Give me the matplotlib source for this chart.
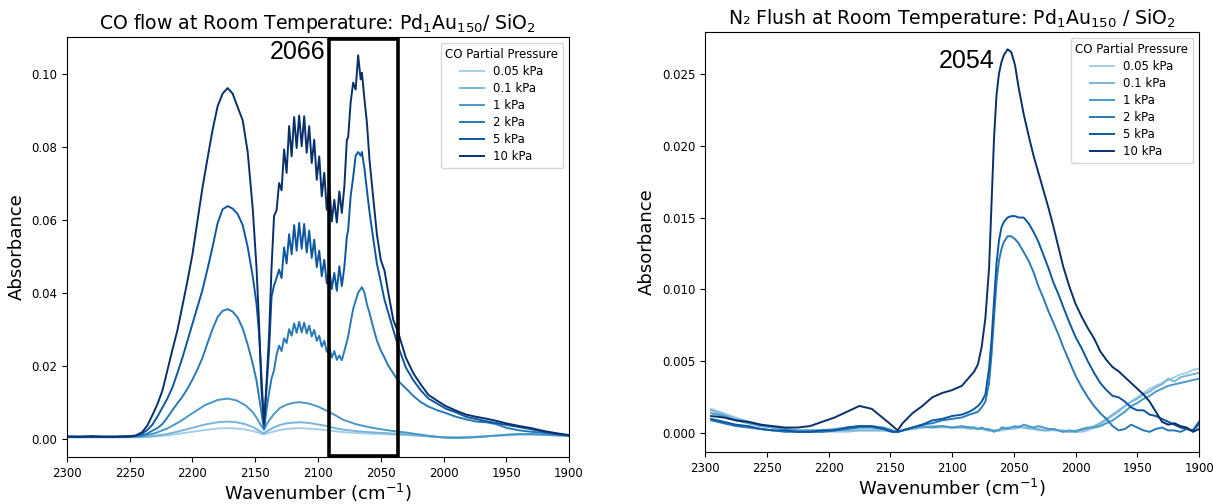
"""Pd1Au150/SiO2 DRIFTS spectra: CO flow vs N2 flush, two panels side by side."""
import matplotlib
matplotlib.use("Agg")
import matplotlib.pyplot as plt
import matplotlib.patches as mpatches

# ---------------------------------------------------------------------------
# Data
# ---------------------------------------------------------------------------
pressures = ["0.05 kPa", "0.1 kPa", "1 kPa", "2 kPa", "5 kPa", "10 kPa"]
shades = [0.35, 0.47, 0.6, 0.72, 0.85, 1.0]   # position in the Blues colormap

# left panel, strong spectra (2, 5, 10 kPa) share this wavenumber grid
wn_strong = [2300, 2290, 2280, 2270, 2260, 2250, 2245, 2240, 2236, 2232, 2228, 2224,
             2220, 2216, 2212, 2208, 2204, 2200, 2196, 2192, 2188, 2184, 2180, 2176,
             2172, 2168, 2164, 2160, 2156, 2152, 2149, 2147, 2145, 2143, 2141, 2139,
             2137, 2135, 2133, 2131, 2129, 2127, 2125, 2123, 2121, 2119, 2117, 2115,
             2113, 2111, 2109, 2107, 2105, 2103, 2101, 2099, 2097, 2095, 2093, 2091,
             2089, 2087, 2085, 2083, 2081, 2079, 2077, 2076, 2074, 2072, 2070, 2068,
             2066, 2065, 2063, 2061, 2059, 2056, 2053, 2050, 2047, 2044, 2040, 2036,
             2030, 2024, 2018, 2012, 2005, 1998, 1990, 1982, 1974, 1966, 1958, 1950,
             1940, 1930, 1920, 1910, 1900]

co_2kpa = [0.0005, 0.0005, 0.0006, 0.0005, 0.0005, 0.0006, 0.0007, 0.0009, 0.0014, 0.0022,
           0.0029, 0.0040, 0.0058, 0.0078, 0.0097, 0.0115, 0.0137, 0.0162, 0.0190, 0.0222,
           0.0262, 0.0300, 0.0333, 0.0350, 0.0355, 0.0348, 0.0332, 0.0302, 0.0258, 0.0205,
           0.0160, 0.0115, 0.0070, 0.0025, 0.0080, 0.0125, 0.0165, 0.0188, 0.0230, 0.0255,
           0.0240, 0.0275, 0.0262, 0.0300, 0.0282, 0.0316, 0.0290, 0.0320, 0.0291, 0.0318,
           0.0288, 0.0310, 0.0280, 0.0298, 0.0268, 0.0282, 0.0252, 0.0268, 0.0238, 0.0250,
           0.0222, 0.0240, 0.0216, 0.0228, 0.0215, 0.0240, 0.0265, 0.0280, 0.0318, 0.0355,
           0.0378, 0.0400, 0.0410, 0.0415, 0.0400, 0.0368, 0.0345, 0.0305, 0.0268, 0.0242,
           0.0222, 0.0200, 0.0179, 0.0158, 0.0138, 0.0117, 0.0100, 0.0088, 0.0078, 0.0070,
           0.0060, 0.0053, 0.0047, 0.0045, 0.0040, 0.0030, 0.0023, 0.0019, 0.0016, 0.0012,
           0.0009]

co_5kpa = [0.0006, 0.0006, 0.0005, 0.0006, 0.0005, 0.0006, 0.0008, 0.0014, 0.0024, 0.0038,
           0.0060, 0.0085, 0.0110, 0.0140, 0.0180, 0.0222, 0.0268, 0.0315, 0.0361, 0.0408,
           0.0465, 0.0525, 0.0590, 0.0628, 0.0637, 0.0630, 0.0615, 0.0585, 0.0525, 0.0445,
           0.0370, 0.0290, 0.0170, 0.0035, 0.0140, 0.0240, 0.0389, 0.0420, 0.0440, 0.0463,
           0.0440, 0.0524, 0.0480, 0.0560, 0.0505, 0.0585, 0.0515, 0.0591, 0.0520, 0.0588,
           0.0510, 0.0570, 0.0495, 0.0545, 0.0470, 0.0515, 0.0445, 0.0490, 0.0425, 0.0465,
           0.0410, 0.0454, 0.0405, 0.0472, 0.0418, 0.0470, 0.0554, 0.0570, 0.0664, 0.0715,
           0.0775, 0.0785, 0.0775, 0.0785, 0.0740, 0.0680, 0.0622, 0.0548, 0.0478, 0.0430,
           0.0380, 0.0345, 0.0298, 0.0252, 0.0195, 0.0160, 0.0132, 0.0110, 0.0096, 0.0082,
           0.0072, 0.0060, 0.0054, 0.0048, 0.0043, 0.0038, 0.0032, 0.0026, 0.0019, 0.0013,
           0.0009]

co_10kpa = [0.0006, 0.0005, 0.0007, 0.0005, 0.0006, 0.0007, 0.0009, 0.0018, 0.0036, 0.0064,
            0.0094, 0.0131, 0.0187, 0.0243, 0.0297, 0.0364, 0.0432, 0.0505, 0.0597, 0.0688,
            0.0768, 0.0845, 0.0910, 0.0945, 0.0960, 0.0945, 0.0908, 0.0872, 0.0785, 0.0630,
            0.0470, 0.0320, 0.0135, 0.0042, 0.0150, 0.0280, 0.0470, 0.0610, 0.0625, 0.0700,
            0.0680, 0.0792, 0.0728, 0.0856, 0.0773, 0.0881, 0.0796, 0.0885, 0.0801, 0.0883,
            0.0783, 0.0856, 0.0755, 0.0819, 0.0709, 0.0773, 0.0664, 0.0728, 0.0627, 0.0691,
            0.0595, 0.0654, 0.0592, 0.0677, 0.0618, 0.0690, 0.0819, 0.0824, 0.0920, 0.0975,
            0.0956, 0.1050, 0.0984, 0.1002, 0.0930, 0.0865, 0.0765, 0.0660, 0.0558, 0.0490,
            0.0460, 0.0400, 0.0325, 0.0290, 0.0222, 0.0179, 0.0148, 0.0120, 0.0104, 0.0089,
            0.0077, 0.0066, 0.0060, 0.0055, 0.0049, 0.0042, 0.0035, 0.0029, 0.0021, 0.0015,
            0.0010]

# left panel, weak spectra (0.05, 0.1, 1 kPa)
wn_weak = [2300, 2280, 2260, 2250, 2240, 2230, 2220, 2210, 2200, 2190, 2180, 2172, 2165,
           2158, 2152, 2148, 2145, 2143, 2140, 2135, 2130, 2125, 2120, 2115, 2110, 2105,
           2100, 2095, 2090, 2085, 2080, 2070, 2060, 2050, 2040, 2030, 2020, 2010, 2000,
           1990, 1980, 1970, 1960, 1950, 1940, 1930, 1920, 1910, 1900]

co_005kpa = [0.0004, 0.0004, 0.0004, 0.0004, 0.0004, 0.0006, 0.0009, 0.0014, 0.0019, 0.0024,
             0.0028, 0.0029, 0.0028, 0.0025, 0.0021, 0.0017, 0.0013, 0.0012, 0.0015, 0.0020,
             0.0024, 0.0027, 0.0028, 0.0029, 0.0028, 0.0027, 0.0026, 0.0024, 0.0022, 0.0020,
             0.0018, 0.0016, 0.0014, 0.0013, 0.0011, 0.0010, 0.0008, 0.0006, 0.0005, 0.0004,
             0.0005, 0.0006, 0.0008, 0.0009, 0.0011, 0.0011, 0.0010, 0.0009, 0.0008]

co_01kpa = [0.0004, 0.0004, 0.0004, 0.0004, 0.0005, 0.0008, 0.0013, 0.0021, 0.0030, 0.0039,
            0.0045, 0.0047, 0.0045, 0.0040, 0.0032, 0.0024, 0.0018, 0.0015, 0.0022, 0.0031,
            0.0038, 0.0042, 0.0044, 0.0045, 0.0044, 0.0042, 0.0039, 0.0036, 0.0032, 0.0028,
            0.0025, 0.0021, 0.0018, 0.0016, 0.0014, 0.0012, 0.0009, 0.0006, 0.0004, 0.0003,
            0.0004, 0.0006, 0.0008, 0.0010, 0.0012, 0.0012, 0.0011, 0.0009, 0.0008]

co_1kpa = [0.0005, 0.0005, 0.0005, 0.0005, 0.0007, 0.0015, 0.0028, 0.0047, 0.0070, 0.0092,
           0.0106, 0.0110, 0.0105, 0.0092, 0.0073, 0.0052, 0.0034, 0.0025, 0.0045, 0.0068,
           0.0085, 0.0093, 0.0098, 0.0100, 0.0098, 0.0094, 0.0088, 0.0080, 0.0071, 0.0062,
           0.0052, 0.0040, 0.0032, 0.0026, 0.0021, 0.0017, 0.0012, 0.0007, 0.0003, 0.0002,
           0.0003, 0.0005, 0.0008, 0.0011, 0.0013, 0.0013, 0.0011, 0.0010, 0.0008]

# right panel (N2 flush), all six spectra on one grid
wn_flush = [2295, 2285, 2275, 2265, 2255, 2245, 2235, 2225, 2215, 2205, 2195, 2185, 2175,
            2165, 2155, 2148, 2144, 2140, 2132, 2124, 2116, 2108, 2100, 2092, 2086, 2082,
            2079, 2076, 2073, 2070, 2068, 2066, 2064, 2062, 2060, 2058, 2055, 2052, 2049,
            2046, 2042, 2038, 2034, 2030, 2026, 2022, 2018, 2014, 2010, 2005, 2000, 1995,
            1990, 1985, 1980, 1975, 1970, 1965, 1960, 1955, 1950, 1945, 1940, 1935, 1930,
            1925, 1920, 1915, 1910, 1905, 1900]

n2_005kpa = [0.0017, 0.0014, 0.0011, 0.0008, 0.0006, 0.0004, 0.0003, 0.0002, 0.0001, 0.0001,
             0.0001, 0.0001, 0.0002, 0.0002, 0.0002, 0.0001, 0.0001, 0.0002, 0.0003, 0.0004,
             0.0004, 0.0004, 0.0004, 0.0004, 0.0003, 0.0003, 0.0003, 0.0003, 0.0002, 0.0002,
             0.0002, 0.0002, 0.0002, 0.0002, 0.0002, 0.0002, 0.0003, 0.0003, 0.0003, 0.0004,
             0.0004, 0.0003, 0.0003, 0.0002, 0.0002, 0.0002, 0.0002, 0.0002, 0.0001, 0.0001,
             0.0001, 0.0001, 0.0002, 0.0004, 0.0006, 0.0009, 0.0012, 0.0015, 0.0019, 0.0022,
             0.0025, 0.0028, 0.0031, 0.0033, 0.0035, 0.0037, 0.0039, 0.0041, 0.0042, 0.0044,
             0.0045]

n2_01kpa = [0.0016, 0.0013, 0.0010, 0.0008, 0.0006, 0.0004, 0.0003, 0.0002, 0.0002, 0.0002,
            0.0002, 0.0002, 0.0002, 0.0002, 0.0002, 0.0001, 0.0001, 0.0002, 0.0003, 0.0004,
            0.0005, 0.0005, 0.0004, 0.0004, 0.0004, 0.0004, 0.0003, 0.0003, 0.0003, 0.0003,
            0.0002, 0.0002, 0.0002, 0.0002, 0.0003, 0.0003, 0.0004, 0.0004, 0.0004, 0.0005,
            0.0004, 0.0004, 0.0003, 0.0003, 0.0002, 0.0002, 0.0003, 0.0002, 0.0002, 0.0001,
            0.0002, 0.0002, 0.0003, 0.0005, 0.0007, 0.0010, 0.0013, 0.0016, 0.0019, 0.0022,
            0.0024, 0.0027, 0.0029, 0.0032, 0.0034, 0.0038, 0.0036, 0.0039, 0.0040, 0.0041,
            0.0042]

n2_1kpa = [0.0014, 0.0012, 0.0009, 0.0007, 0.0005, 0.0004, 0.0003, 0.0002, 0.0002, 0.0002,
           0.0003, 0.0004, 0.0005, 0.0005, 0.0004, 0.0002, 0.0001, 0.0002, 0.0004, 0.0005,
           0.0004, 0.0005, 0.0004, 0.0005, 0.0004, 0.0004, 0.0003, 0.0004, 0.0003, 0.0002,
           0.0002, 0.0001, 0.0002, 0.0002, 0.0004, 0.0004, 0.0003, 0.0004, 0.0005, 0.0004,
           0.0006, 0.0005, 0.0004, 0.0005, 0.0004, 0.0003, 0.0003, 0.0002, 0.0001, 0.0002,
           0.0001, 0.0003, 0.0004, 0.0004, 0.0005, 0.0007, 0.0009, 0.0012, 0.0015, 0.0019,
           0.0021, 0.0024, 0.0026, 0.0029, 0.0031, 0.0033, 0.0034, 0.0035, 0.0036, 0.0037,
           0.0038]

n2_2kpa = [0.0009, 0.0007, 0.0005, 0.0004, 0.0003, 0.0002, 0.0001, 0.0001, 0.0001, 0.0001,
           0.0002, 0.0003, 0.0004, 0.0004, 0.0003, 0.0001, 0.0001, 0.0002, 0.0004, 0.0006,
           0.0007, 0.0009, 0.0010, 0.0011, 0.0013, 0.0014, 0.0015, 0.0018, 0.0022, 0.0035,
           0.0055, 0.0080, 0.0105, 0.0120, 0.0128, 0.0133, 0.0137, 0.0137, 0.0135, 0.0132,
           0.0126, 0.0120, 0.0112, 0.0102, 0.0094, 0.0085, 0.0077, 0.0069, 0.0060, 0.0050,
           0.0040, 0.0032, 0.0025, 0.0019, 0.0014, 0.0010, 0.0005, 0.0002, 0.0003, 0.0006,
           0.0004, 0.0002, 0.0001, 0.0003, 0.0004, 0.0002, 0.0002, 0.0001, 0.0003, 0.0002,
           0.0006]

n2_5kpa = [0.0010, 0.0008, 0.0006, 0.0005, 0.0003, 0.0002, 0.0002, 0.0001, 0.0001, 0.0002,
           0.0002, 0.0004, 0.0005, 0.0005, 0.0003, 0.0001, 0.0001, 0.0002, 0.0004, 0.0006,
           0.0009, 0.0010, 0.0012, 0.0013, 0.0015, 0.0017, 0.0019, 0.0022, 0.0027, 0.0045,
           0.0065, 0.0092, 0.0118, 0.0134, 0.0143, 0.0147, 0.0150, 0.0151, 0.0151, 0.0150,
           0.0150, 0.0146, 0.0140, 0.0133, 0.0124, 0.0115, 0.0105, 0.0097, 0.0088, 0.0077,
           0.0067, 0.0059, 0.0050, 0.0042, 0.0035, 0.0030, 0.0026, 0.0025, 0.0022, 0.0018,
           0.0016, 0.0016, 0.0013, 0.0012, 0.0010, 0.0008, 0.0006, 0.0004, 0.0003, 0.0002,
           0.0008]

n2_10kpa = [0.0012, 0.0011, 0.0009, 0.0008, 0.0006, 0.0005, 0.0004, 0.0004, 0.0005, 0.0008,
            0.0011, 0.0015, 0.0019, 0.0017, 0.0010, 0.0005, 0.0002, 0.0007, 0.0014, 0.0019,
            0.0025, 0.0028, 0.0030, 0.0033, 0.0039, 0.0043, 0.0048, 0.0060, 0.0080, 0.0115,
            0.0160, 0.0205, 0.0235, 0.0250, 0.0258, 0.0263, 0.0267, 0.0265, 0.0256, 0.0240,
            0.0222, 0.0207, 0.0193, 0.0181, 0.0169, 0.0157, 0.0144, 0.0130, 0.0116, 0.0102,
            0.0090, 0.0081, 0.0073, 0.0066, 0.0057, 0.0051, 0.0046, 0.0043, 0.0039, 0.0035,
            0.0031, 0.0027, 0.0022, 0.0015, 0.0008, 0.0006, 0.0007, 0.0005, 0.0004, 0.0001,
            0.0003]

# ---------------------------------------------------------------------------
# Plot
# ---------------------------------------------------------------------------
colors = [plt.cm.Blues(s) for s in shades]

fig = plt.figure(figsize=(12.13, 5.04), dpi=100)
ax1 = fig.add_axes([0.0552, 0.0933, 0.4139, 0.8333])
ax2 = fig.add_axes([0.5812, 0.1032, 0.4073, 0.8333])

left_series = [(wn_weak, co_005kpa), (wn_weak, co_01kpa), (wn_weak, co_1kpa),
               (wn_strong, co_2kpa), (wn_strong, co_5kpa), (wn_strong, co_10kpa)]
right_series = [n2_005kpa, n2_01kpa, n2_1kpa, n2_2kpa, n2_5kpa, n2_10kpa]

for (x, y), c, lbl in zip(left_series, colors, pressures):
    ax1.plot(x, y, color=c, lw=1.4, label=lbl)
for y, c, lbl in zip(right_series, colors, pressures):
    ax2.plot(wn_flush, y, color=c, lw=1.4, label=lbl)


def style(ax, title, ylim):
    ax.set_xlim(2300, 1900)
    ax.set_ylim(*ylim)
    ax.set_xticks([2300, 2250, 2200, 2150, 2100, 2050, 2000, 1950, 1900])
    ax.tick_params(labelsize=8.5)
    ax.set_title(title, fontsize=13.6)
    ax.set_xlabel("Wavenumber (cm$^{-1}$)", fontsize=13, labelpad=1.5)
    ax.set_ylabel("Absorbance", fontsize=13)
    ax.legend(title="CO Partial Pressure", loc="upper right", fontsize=8.5,
              title_fontsize=8.5, labelspacing=0.35)


style(ax1, "CO flow at Room Temperature: Pd$_1$Au$_{150}$/ SiO$_2$", (-0.005, 0.110))
ax1.set_yticks([0.0, 0.02, 0.04, 0.06, 0.08, 0.10])
style(ax2, "N\u2082 Flush at Room Temperature: Pd$_1$Au$_{150}$ / SiO$_2$", (-0.0013, 0.0279))
ax2.set_yticks([0.0, 0.005, 0.010, 0.015, 0.020, 0.025])

# highlight box around the 2066 band
ax1.add_patch(mpatches.Rectangle((2036, -0.0046), 55, 0.1141, fill=False,
                                 edgecolor="black", lw=2.6, clip_on=False, zorder=5))
ax1.text(2094.5, 0.106, "2066", ha="right", va="center", fontsize=18,
         family="Liberation Sans")
ax2.text(2065.8, 0.0259, "2054", ha="right", va="center", fontsize=18,
         family="Liberation Sans")

fig.savefig("out.png", dpi=100, facecolor="white")
